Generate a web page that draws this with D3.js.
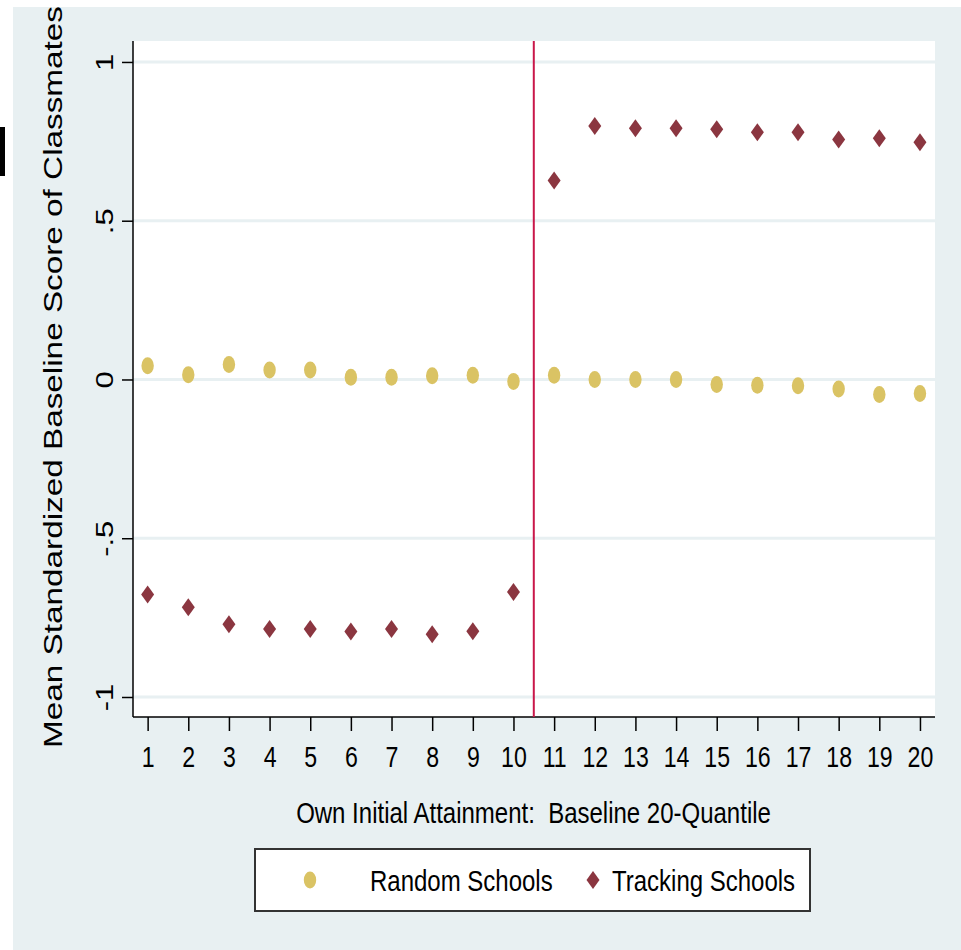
<!DOCTYPE html>
<html>
<head>
<meta charset="utf-8">
<script src="https://cdn.jsdelivr.net/npm/d3@7"></script>
<style>
  body { margin: 0; background: #ffffff; }
  text { font-family: Arial, "Liberation Sans", sans-serif; fill: #000; }
</style>
</head>
<body>
<svg id="chart" width="961" height="950"></svg>
<script>

// quantiles 1..20
var quantiles = d3.range(1, 21);

// mean standardized baseline score of classmates
var randomSchools = [0.043, 0.015, 0.047, 0.030, 0.030, 0.007, 0.007, 0.012, 0.013, -0.006,
                     0.013, 0.000, 0.000, 0.000, -0.016, -0.018, -0.020, -0.030, -0.047, -0.044];
var trackingSchools = [-0.677, -0.717, -0.771, -0.786, -0.786, -0.794, -0.786, -0.802, -0.793, -0.669,
                       0.627, 0.798, 0.791, 0.791, 0.788, 0.779, 0.779, 0.756, 0.760, 0.747];

var yTicks = [-1, -0.5, 0, 0.5, 1];
var yTickLabels = ['-1', '-.5', '0', '.5', '1'];
var cutoff = 10.5;

var svg = d3.select('#chart');

// plot region bounds
// NOTE: can't call it "top", window.top is read-only
var plotLeft = 133, plotRight = 935, plotTop = 41, plotBottom = 717;

var x = d3.scaleLinear().domain([0.64, 20.37]).range([plotLeft, plotRight]);
var y = d3.scaleLinear().domain([-1.063, 1.066]).range([plotBottom, plotTop]);

var gold = '#dac364';
var maroon = '#8b3640';

// graph background (stata style)
svg.append('rect').attr('x', 13).attr('y', 7).attr('width', 948).attr('height', 943)
  .attr('fill', '#e8f0f2');

// stray black mark on the left edge
svg.append('rect').attr('x', 0).attr('y', 127).attr('width', 5).attr('height', 49)
  .attr('fill', '#000');

// plot region
svg.append('rect').attr('x', plotLeft).attr('y', plotTop)
  .attr('width', plotRight - plotLeft).attr('height', plotBottom - plotTop)
  .attr('fill', '#fff');

// gridlines
svg.append('g').selectAll('line')
  .data(yTicks)
  .enter().append('line')
    .attr('x1', plotLeft).attr('x2', plotRight)
    .attr('y1', function(d) { return y(d); })
    .attr('y2', function(d) { return y(d); })
    .attr('stroke', '#e8f0f2')
    .attr('stroke-width', 3);

// x axis
var xAxis = svg.append('g')
  .attr('transform', 'translate(0,' + plotBottom + ')')
  .call(d3.axisBottom(x).tickValues(quantiles).tickFormat(d3.format('d'))
    .tickSize(14).tickSizeOuter(0));

xAxis.select('.domain').attr('stroke', '#000').attr('stroke-width', 1.5)
  .attr('d', 'M' + plotLeft + ',0H' + plotRight);
xAxis.selectAll('.tick line').attr('stroke', '#000').attr('stroke-width', 1.5);
// narrow look: squeeze the labels horizontally
xAxis.selectAll('.tick text')
  .attr('y', null).attr('dy', null)
  .attr('font-size', 30)
  .attr('font-family', 'Arial, "Liberation Sans", sans-serif')
  .attr('transform', 'translate(0,50) scale(0.77,1)');

// y axis
var yAxis = svg.append('g')
  .attr('transform', 'translate(' + plotLeft + ',0)')
  .call(d3.axisLeft(y).tickValues(yTicks)
    .tickFormat(function(d, i) { return yTickLabels[i]; })
    .tickSize(11).tickSizeOuter(0));

yAxis.select('.domain').attr('stroke', '#000').attr('stroke-width', 1.5)
  .attr('d', 'M0,' + plotTop + 'V' + plotBottom);
yAxis.selectAll('.tick text')
  .attr('x', null).attr('dy', null)
  .attr('text-anchor', 'middle')
  .attr('font-size', 31)
  .attr('font-family', 'Arial, "Liberation Sans", sans-serif')
  .attr('transform', 'translate(-20,0) rotate(-90) scale(1,0.8)');
yAxis.selectAll('.tick line').attr('stroke', '#000').attr('stroke-width', 1.5);

// cutoff between bottom and top half
svg.append('line')
  .attr('x1', x(cutoff)).attr('x2', x(cutoff))
  .attr('y1', plotTop).attr('y2', plotBottom)
  .attr('stroke', '#c9174a')
  .attr('stroke-width', 2);

// random schools - ellipses
svg.append('g').selectAll('ellipse')
  .data(randomSchools)
  .enter().append('ellipse')
    .attr('cx', function(d, i) { return x(quantiles[i]); })
    .attr('cy', function(d) { return y(d); })
    .attr('rx', 6.2).attr('ry', 8.5)
    .attr('fill', gold);

// tracking schools - diamonds
var diamond = 'M0,-9L6.5,0L0,9L-6.5,0Z';
svg.append('g').selectAll('path')
  .data(trackingSchools)
  .enter().append('path')
    .attr('d', diamond)
    .attr('transform', function(d, i) { return 'translate(' + x(quantiles[i]) + ',' + y(d) + ')'; })
    .attr('fill', maroon);

// axis titles
svg.append('text')
  .attr('transform', 'translate(533.5,823) scale(0.8,1)')
  .attr('text-anchor', 'middle')
  .attr('font-size', 30)
  .style('white-space', 'pre')
  .text('Own Initial Attainment:  Baseline 20-Quantile');

svg.append('text')
  .attr('transform', 'translate(62,377) rotate(-90) scale(1,0.8)')
  .attr('text-anchor', 'middle')
  .attr('font-size', 33.3)
  .text('Mean Standardized Baseline Score of Classmates');

// legend
var legend = svg.append('g');
legend.append('rect')
  .attr('x', 255).attr('y', 849).attr('width', 555).attr('height', 62)
  .attr('fill', '#fff').attr('stroke', '#333').attr('stroke-width', 2);

legend.append('ellipse')
  .attr('cx', 310).attr('cy', 880).attr('rx', 6.2).attr('ry', 8.5)
  .attr('fill', gold);
legend.append('text')
  .attr('transform', 'translate(370,891) scale(0.8,1)')
  .attr('font-size', 30)
  .text('Random Schools');

legend.append('path')
  .attr('d', diamond)
  .attr('transform', 'translate(593,880)')
  .attr('fill', maroon);
legend.append('text')
  .attr('transform', 'translate(612,891) scale(0.8,1)')
  .attr('font-size', 30)
  .text('Tracking Schools');

</script>
</body>
</html>
